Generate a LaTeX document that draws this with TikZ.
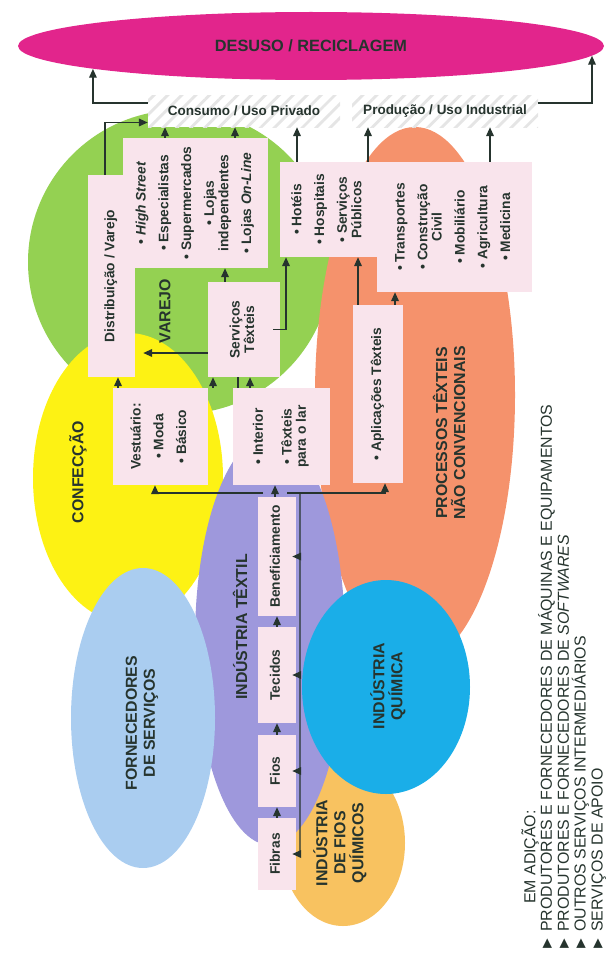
\documentclass[tikz,border=0pt]{standalone}
\usepackage{fontspec}
\setmainfont{Liberation Sans}
\usetikzlibrary{shapes.geometric,arrows.meta,patterns.meta}

\definecolor{reciclagem}{RGB}{226,37,140}
\definecolor{varejo}{RGB}{148,209,82}
\definecolor{confeccao}{RGB}{253,242,20}
\definecolor{servicos}{RGB}{170,205,240}
\definecolor{textil}{RGB}{158,152,220}
\definecolor{processos}{RGB}{245,146,108}
\definecolor{quimica}{RGB}{26,174,232}
\definecolor{fiosq}{RGB}{248,194,96}
\definecolor{caixa}{RGB}{249,228,236}
\definecolor{texto}{RGB}{38,52,46}

\newcommand{\vtext}[2][c]{\rotatebox{90}{\begin{tabular}{@{}#1@{}}#2\end{tabular}}}

\begin{document}
\begin{tikzpicture}[
    x=0.025cm, y=-0.025cm,
    sz/.style 2 args={minimum width=#1*0.025cm, minimum height=#2*0.025cm},
    area/.style={ellipse, inner sep=0pt},
    box/.style={rectangle, fill=caixa, inner sep=0pt, text=texto, font=\fontsize{9.8}{10.2}\selectfont\bfseries},
    uso/.style={rectangle, fill=white, inner sep=0pt, text=texto, font=\fontsize{9.6}{11}\selectfont\bfseries,
        postaction={pattern={Lines[angle=45,distance=7pt,line width=2pt]}, pattern color=black!10}},
    rotulo/.style={rotate=90, align=center, text=texto, font=\fontsize{11.3}{12.8}\selectfont\bfseries},
    arrow/.style={draw=texto, line width=1pt, -{Triangle[length=0.22cm,width=0.19cm]}},
    link/.style={draw=texto, line width=1pt}
]
\useasboundingbox (0,0) rectangle (614,959);

% Areas
\node[area, fill=varejo, sz={304}{304}] (varejo) at (180,262) {};
\node[area, fill=confeccao, sz={190}{290}] (confeccao) at (128,478) {};
\node[area, fill=processos, sz={200}{536}] (processos) at (415,395) {};
\node[area, fill=fiosq, sz={124}{166}] (fiosq) at (343,843) {};
\node[area, fill=textil, sz={150}{410}] (textil) at (270,640) {};
\node[area, fill=servicos, sz={144}{300}] (fornec) at (143,718) {};
\node[area, fill=quimica, sz={168}{214}] (quimica) at (386,687) {};
\node[area, fill=reciclagem, sz={586}{68}, text=texto, font=\fontsize{11.6}{13}\selectfont\bfseries] (desuso) at (311,46) {DESUSO / RECICLAGEM};

% Area labels
\node[rotulo] (lvarejo) at (165,311) {VAREJO};
\node[rotulo] (lconfeccao) at (78,472) {CONFECÇÃO};
\node[rotulo] (lfornec) at (142,723) {FORNECEDORES\\DE SERVIÇOS};
\node[rotulo] (ltextil) at (240,627) {INDÚSTRIA TÊXTIL};
\node[rotulo] (lquimica) at (388,686) {INDÚSTRIA\\QUÍMICA};
\node[rotulo] (lfiosq) at (340,843) {INDÚSTRIA\\DE FIOS\\QUÍMICOS};
\node[rotulo] (lprocessos) at (449,433) {PROCESSOS TÊXTEIS\\NÃO CONVENCIONAIS};

% Use
\node[uso, sz={192}{32}] (consumo) at (244,111) {Consumo / Uso Privado};
\node[uso, sz={186}{32}] (producao) at (445,111) {Produção / Uso Industrial};

% Boxes
\node[box, sz={47}{202}] (dist) at (111.5,276) {\vtext{Distribuição / Varejo}};
\node[box, sz={145}{130}] (lojas) at (195.5,203) {\vtext{\textbullet\ \textit{High Street}\\[6pt]
    \textbullet\ Especialistas\\[6pt] \textbullet\ Supermercados\\[6pt]
    \textbullet\ Lojas\\ independentes\\[6pt] \textbullet\ Lojas \textit{On-Line}}};
\node[box, sz={97}{95}] (hoteis) at (328.5,209.5) {\vtext{\textbullet\ Hotéis\\[6pt]
    \textbullet\ Hospitais\\[6pt] \textbullet\ Serviços\\ Públicos}};
\node[box, sz={155}{130}] (transp) at (454.5,227) {\vtext{\textbullet\ Transportes\\[6pt]
    \textbullet\ Construção\\ Civil\\[6pt] \textbullet\ Mobiliário\\[6pt]
    \textbullet\ Agricultura\\[6pt] \textbullet\ Medicina}};
\node[box, sz={72}{95}] (serv) at (244,329.5) {\vtext{Serviços\\ Têxteis}};
\node[box, sz={95}{97}] (vest) at (160.5,436.5) {\vtext{Vestuário:\\[6pt] \textbullet\ Moda\\[6pt] \textbullet\ Básico}};
\node[box, sz={97}{97}] (interior) at (281.5,436.5) {\vtext{\textbullet\ Interior\\[10pt] \textbullet\ Têxteis\\ para o lar}};
\node[box, sz={50}{178}] (aplic) at (378,394) {\vtext{\textbullet\ Aplicações Têxteis}};
\node[box, sz={38}{119}] (benef) at (277,556.5) {\vtext{Beneficiamento}};
\node[box, sz={38}{96}] (tecidos) at (277,675) {\vtext{Tecidos}};
\node[box, sz={38}{72}] (fios) at (277,771) {\vtext{Fios}};
\node[box, sz={38}{72}] (fibras) at (277,854) {\vtext{Fibras}};

% Connections
\draw[arrow] ([yshift=0.2cm]consumo.west) -| (desuso.186);
\draw[arrow] ([yshift=0.2cm]producao.east) -| (desuso.-2);
\draw[arrow] (dist.north -| 105,0) |- ([yshift=0.12cm]consumo.south west);
\draw[arrow] (lojas.north -| 165,0) -- (consumo.south -| 165,0);
\draw[arrow] (lojas.north -| 235,0) -- (consumo.south -| 235,0);
\draw[arrow] (hoteis.north -| 297,0) -- (consumo.south -| 297,0);
\draw[arrow] (hoteis.north -| 368,0) -- (producao.south -| 368,0);
\draw[arrow] (transp.north -| 490,0) -- (producao.south -| 490,0);
\draw[arrow] (serv.north -| 225,0) -- (lojas.south -| 225,0);
\draw[arrow] ([xshift=-0.18cm]serv.east) -| (hoteis.south -| 286,0);
\draw[arrow, shorten >=0.2cm] (serv.west |- 0,353) -- (dist.east |- 0,353);
\draw[arrow] (vest.north -| 118,0) -- (dist.south -| 118,0);
\draw[arrow] (vest.north -| 213,0) -- (serv.south -| 213,0);
\draw[link] (interior.north -| 238,0) -- (serv.south -| 238,0);
\draw[arrow] (interior.north -| 250,0) -- (serv.south -| 250,0);
\draw[arrow] (aplic.north -| 358,0) -- (hoteis.south -| 358,0);
\draw[arrow] (aplic.north -| 395,0) -- (transp.south -| 395,0);
\draw[arrow] (benef.north -| 275,0) -- (interior.south -| 275,0);

\coordinate (ramo) at (275,493);
\draw[arrow] ([xshift=-0.3cm]ramo) -| (vest.south -| 155,0);
\draw[arrow] ([xshift=0.3cm]ramo) -| (aplic.south -| 385,0);
\draw[link] ([xshift=0.625cm]ramo) -- (fibras.east -| 300,0);
\foreach \n in {benef,tecidos,fios,fibras}
    \draw[arrow] (\n.east -| 300,0) -- ([xshift=-0.1cm]\n.east);

\draw[arrow] (fibras) -- (fios);
\draw[arrow] (fios) -- (tecidos);
\draw[arrow] (tecidos) -- (benef);

% Legend
\node[rotate=90, inner sep=0pt, text=texto, font=\fontsize{11.3}{12}\selectfont] (emadicao) at (530,857) {EM ADIÇÃO:};
\node[rotate=90, anchor=west, align=left, inner sep=0pt, text=texto, font=\fontsize{11.3}{12}\selectfont] (legenda) at (572,952)
    {► PRODUTORES E FORNECEDORES DE MÁQUINAS E EQUIPAMENTOS\\
     ► PRODUTORES E FORNECEDORES DE \textit{SOFTWARES}\\
     ► OUTROS SERVIÇOS INTERMEDIÁRIOS\\
     ► SERVIÇOS DE APOIO};

\end{tikzpicture}
\end{document}
